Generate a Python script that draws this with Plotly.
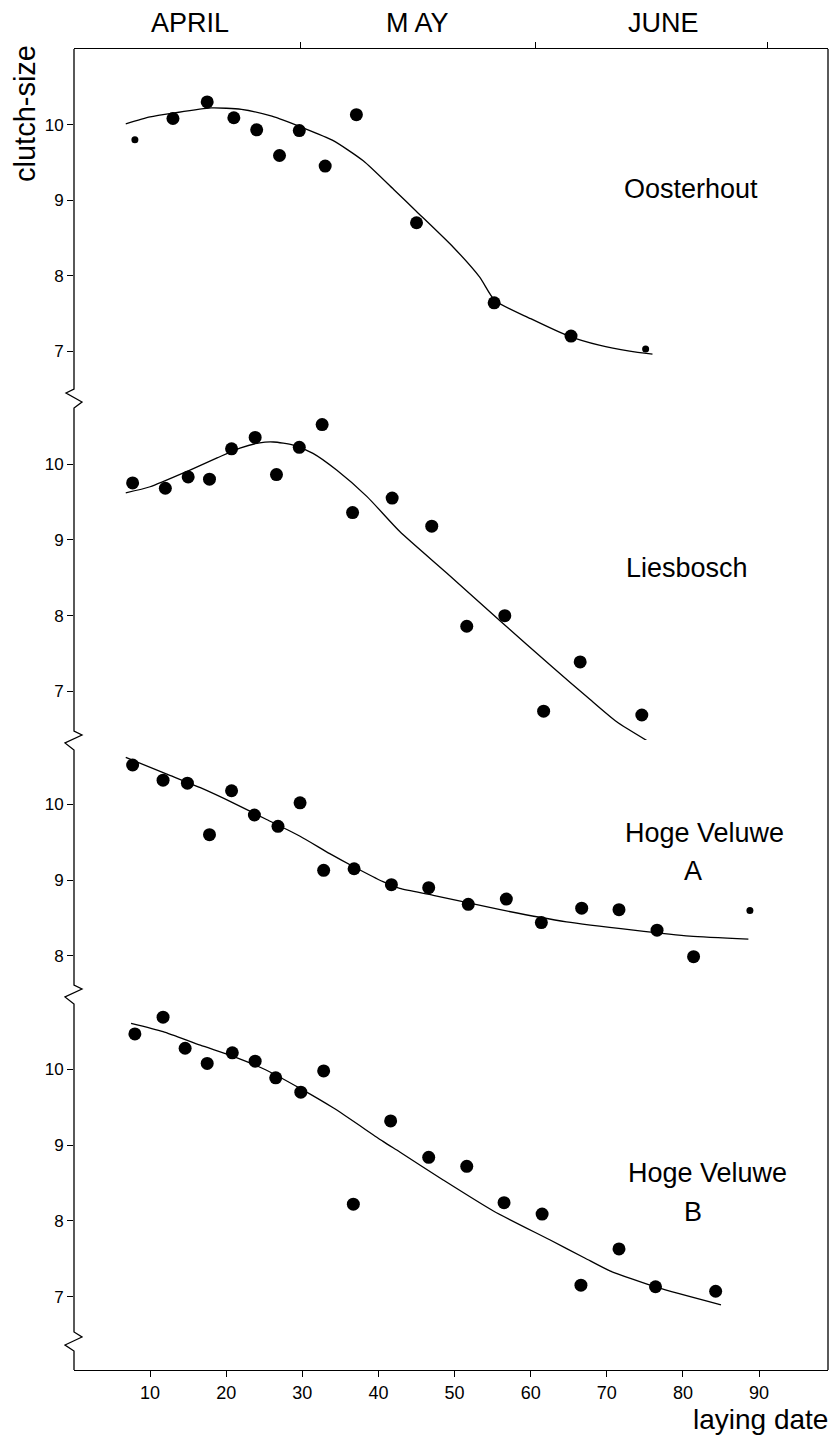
import plotly.graph_objects as go

# ---------------- data ----------------
# Oosterhout
oost_day = [8, 13, 17.5, 21, 24, 27, 29.6, 33, 37.1, 45, 55.2, 65.3, 75.1]
oost_clutch = [9.80, 10.08, 10.30, 10.09, 9.93, 9.59, 9.92, 9.45, 10.13, 8.70, 7.64, 7.20, 7.03]
oost_fit_day = [6.8, 10, 13, 18, 22, 26, 30, 34, 38, 42, 45, 49.8, 53.3, 55.3, 60, 65, 69, 73, 76]
oost_fit = [10.01, 10.10, 10.15, 10.22, 10.20, 10.11, 9.96, 9.79, 9.52, 9.14, 8.85, 8.38,
            7.98, 7.67, 7.43, 7.20, 7.08, 7.00, 6.96]

# Liesbosch
lies_day = [7.7, 12, 15, 17.8, 20.7, 23.8, 26.6, 29.6, 32.6, 36.6, 41.8, 47, 51.6, 56.6, 61.7, 66.5, 74.6]
lies_clutch = [9.75, 9.68, 9.83, 9.80, 10.20, 10.35, 9.86, 10.22, 10.52, 9.36, 9.55, 9.18,
               7.86, 8.00, 6.74, 7.39, 6.69]
lies_fit_day = [6.8, 10, 14.8, 18.8, 21.8, 24.4, 26.2, 28.8, 31.4, 34.5, 38.5, 42.8, 49, 56, 63, 67.5, 71.3, 75.8]
lies_fit = [9.62, 9.70, 9.90, 10.08, 10.21, 10.28, 10.29, 10.25, 10.14, 9.92, 9.57, 9.11,
            8.56, 7.93, 7.31, 6.92, 6.60, 6.32]

# Hoge Veluwe A
hva_day = [7.7, 11.7, 14.9, 17.8, 20.7, 23.7, 26.8, 29.7, 32.8, 36.8, 41.7, 46.6, 51.8,
           56.8, 61.4, 66.7, 71.6, 76.6, 81.4, 88.8]
hva_clutch = [10.52, 10.32, 10.28, 9.60, 10.18, 9.86, 9.71, 10.02, 9.13, 9.15, 8.94, 8.90,
              8.68, 8.75, 8.44, 8.63, 8.61, 8.34, 7.99, 8.60]
hva_fit_day = [6.8, 12.2, 16.6, 20.9, 25.3, 29.7, 33.6, 36.7, 40.6, 42.8, 47.2, 56, 64.7, 73.5, 80.9, 88.6]
hva_fit = [10.62, 10.40, 10.22, 10.02, 9.80, 9.58, 9.35, 9.18, 8.98, 8.89, 8.80, 8.61,
           8.45, 8.34, 8.26, 8.22]

# Hoge Veluwe B
hvb_day = [8.0, 11.7, 14.6, 17.5, 20.8, 23.8, 26.5, 29.8, 32.8, 36.7, 41.6, 46.6, 51.6,
           56.5, 61.5, 66.6, 71.6, 76.4, 84.3]
hvb_clutch = [10.47, 10.69, 10.28, 10.08, 10.22, 10.11, 9.89, 9.70, 9.98, 8.22, 9.32, 8.84,
              8.72, 8.24, 8.09, 7.15, 7.63, 7.13, 7.07]
hvb_fit_day = [7.5, 11.7, 16.6, 21, 25.3, 29.7, 34.1, 40.6, 42.8, 48.5, 55.1, 62.5, 67.1, 70.4, 76.6, 85]
hvb_fit = [10.61, 10.50, 10.32, 10.17, 9.99, 9.75, 9.49, 9.05, 8.91, 8.54, 8.13, 7.75,
           7.51, 7.34, 7.12, 6.89]

# points based on small samples (drawn as small dots)
oost_small = [0, 12]
hva_small = [19]

x_ticks = [10, 20, 30, 40, 50, 60, 70, 80, 90]
month_labels = ["APRIL", "M AY", "JUNE"]
month_bounds = [29.8, 60.6, 91.1]
site_labels = ["Oosterhout", "Liesbosch", "Hoge Veluwe", "A", "Hoge Veluwe", "B"]

# ---------------- layout helpers ----------------
OFF = 8                      # page body margin offset of the figure div
W, H = 837 - OFF, 1440 - OFF
# plot-area edges in page (reference) pixels
PL, PR, PT, PB = 74, 828, 49, 1370
FONT = "Liberation Sans, Arial, sans-serif"


def fx(px):
    return (px - PL) / (PR - PL)


def fy(py):
    return (PB - py) / (PB - PT)


BIG, SMALL = 13, 7


def sizes(n, small):
    return [SMALL if i in small else BIG for i in range(n)]


panels = [
    ("y", oost_day, oost_clutch, oost_fit_day, oost_fit, oost_small),
    ("y2", lies_day, lies_clutch, lies_fit_day, lies_fit, []),
    ("y3", hva_day, hva_clutch, hva_fit_day, hva_fit, hva_small),
    ("y4", hvb_day, hvb_clutch, hvb_fit_day, hvb_fit, []),
]

fig = go.Figure()
for i, (ya, d, c, fd, f, small) in enumerate(panels):
    fig.add_trace(go.Scatter(x=fd, y=f, mode="lines", xaxis="x", yaxis=ya,
                             line=dict(color="black", width=1.3, shape="spline", smoothing=0.6),
                             hoverinfo="skip"))
    fig.add_trace(go.Scatter(x=d, y=c, mode="markers", xaxis="x2" if i == 0 else "x", yaxis=ya,
                             marker=dict(color="black", opacity=1, size=sizes(len(d), small),
                                         line=dict(width=0))))

# y-axis domains (break positions in pixels) and ranges
breaks_px = [395, 740, 993]
doms = [[fy(breaks_px[0]), 1], [fy(breaks_px[1]), fy(breaks_px[0])],
        [fy(breaks_px[2]), fy(breaks_px[1])], [0, fy(breaks_px[2])]]
ranges = [[6.42, 11.0], [6.36, 10.91], [7.51, 10.85], [6.03, 11.01]]
tickvals = [[7, 8, 9, 10], [7, 8, 9, 10], [8, 9, 10], [7, 8, 9, 10]]

yax_common = dict(showline=False, showgrid=False, zeroline=False, ticks="outside", ticklen=6,
                  tickwidth=1.2, tickcolor="black", anchor="x", automargin=False,
                  tickfont=dict(family=FONT, size=17, color="black"))
layout_axes = {}
for k, name in enumerate(["yaxis", "yaxis2", "yaxis3", "yaxis4"]):
    layout_axes[name] = dict(domain=doms[k], range=ranges[k], tickvals=tickvals[k], **yax_common)

xr = [0, 99.06]
layout_axes["xaxis"] = dict(range=xr, domain=[0, 1], anchor="y4", showline=True, linecolor="black",
                            linewidth=1.3, showgrid=False, zeroline=False, ticks="outside", ticklen=6,
                            tickwidth=1.2, tickcolor="black", tickvals=x_ticks, automargin=False,
                            tickfont=dict(family=FONT, size=18, color="black"))
layout_axes["xaxis2"] = dict(range=xr, domain=[0, 1], anchor="y", side="top", overlaying="x",
                             showline=True, linecolor="black", linewidth=1.3, showgrid=False,
                             zeroline=False, ticks="outside", ticklen=6, tickwidth=1.2,
                             tickcolor="black", tickvals=month_bounds, ticktext=["", "", ""],
                             automargin=False)

# left axis with break marks, right frame line
pts = [(74, 49), (74, 389), (66, 393), (82, 402), (74, 408),
       (74, 731), (82, 735), (65, 743), (74, 750),
       (74, 985), (82, 989), (65, 997), (74, 1004),
       (74, 1332), (82, 1337), (65, 1345), (74, 1351), (74, 1370)]
path = "M " + " L ".join(f"{fx(px):.5f},{fy(py):.5f}" for px, py in pts)
shapes = [
    dict(type="path", xref="paper", yref="paper", path=path, line=dict(color="black", width=1.3)),
    dict(type="line", xref="paper", yref="paper", x0=1, x1=1, y0=0, y1=1,
         line=dict(color="black", width=1.3)),
]

ann = []
for lab, cx in zip(month_labels, [190, 417.5, 663.5]):
    ann.append(dict(text=lab, x=fx(cx), y=fy(23), xref="paper", yref="paper", showarrow=False,
                    xanchor="center", yanchor="middle", font=dict(family=FONT, size=27, color="black")))
label_pos = [(691, 189), (687, 568), (704, 833), (693, 871), (707, 1173), (693, 1212)]
for lab, (cx, cy) in zip(site_labels, label_pos):
    ann.append(dict(text=lab, x=fx(cx), y=fy(cy), xref="paper", yref="paper", showarrow=False,
                    xanchor="center", yanchor="middle", font=dict(family=FONT, size=27, color="black")))
ann.append(dict(text="clutch-size", x=fx(25), y=fy(114), xref="paper", yref="paper", showarrow=False,
                textangle=-90, xanchor="center", yanchor="middle",
                font=dict(family=FONT, size=29, color="black")))
ann.append(dict(text="laying date", x=fx(830), y=fy(1419), xref="paper", yref="paper", showarrow=False,
                xanchor="right", yanchor="middle", font=dict(family=FONT, size=28, color="black")))

fig.update_layout(width=W, height=H,
                  margin=dict(l=PL - OFF, r=837 - PR, t=PT - OFF, b=1440 - PB, autoexpand=False),
                  paper_bgcolor="white", plot_bgcolor="white", showlegend=False,
                  shapes=shapes, annotations=ann, **layout_axes)

fig.write_html("out.html")
